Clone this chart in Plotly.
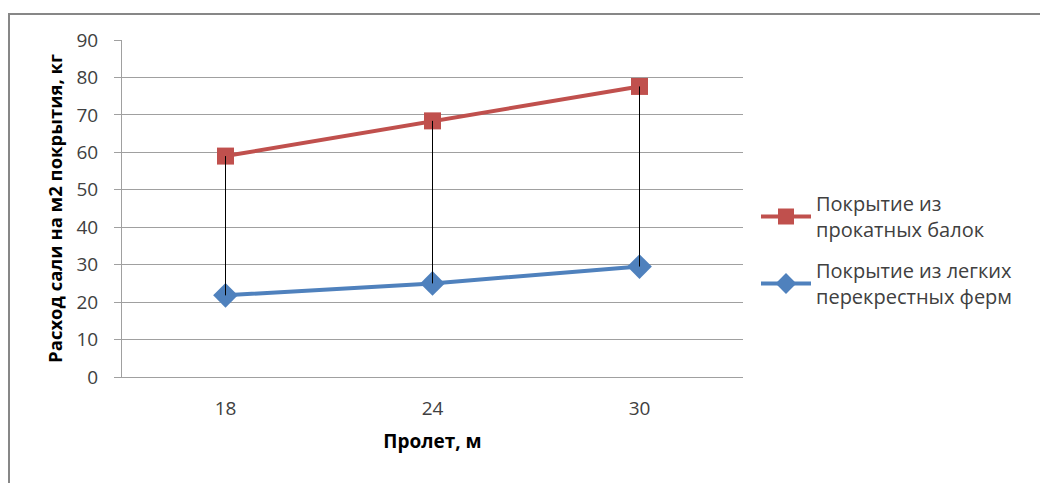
import plotly.graph_objects as go

categories = ["18", "24", "30"]
rolled_beams = [59.0, 68.4, 77.6]
light_trusses = [21.8, 25.0, 29.5]
name_rolled = "Покрытие из<br>прокатных балок"
name_truss = "Покрытие из легких<br>перекрестных ферм"
y_title = "Расход сали на м2 покрытия, кг"
x_title = "Пролет, м"

RED = "#C0504D"
BLUE = "#4F81BD"
FONT = "Open Sans"

fig = go.Figure()
fig.add_trace(go.Scatter(
    x=categories, y=rolled_beams, name=name_rolled, mode="lines+markers",
    legendgroup="a",
    line=dict(color=RED, width=4),
    marker=dict(symbol="square", size=17, color=RED),
))
fig.add_trace(go.Scatter(
    x=categories, y=light_trusses, name=name_truss, mode="lines+markers",
    legendgroup="b",
    line=dict(color=BLUE, width=4),
    marker=dict(symbol="diamond", size=19, color=BLUE),
))

# high-low drop lines
dx, dy = [], []
for c, a, b in zip(categories, rolled_beams, light_trusses):
    dx += [c, c, None]
    dy += [a, b, None]
fig.add_trace(go.Scatter(x=dx, y=dy, mode="lines", line=dict(color="black", width=1),
                         showlegend=False, hoverinfo="skip"))

L, R, T, B = 122, 297, 40, 106
W, H = 1040, 483
pw, ph = W - L - R, H - T - B

def px_x(p):
    return (p - L) / pw

def px_y(p):
    return (H - B - p) / ph

fig.add_shape(type="rect", xref="paper", yref="paper",
              x0=px_x(9), x1=px_x(1200), y0=px_y(14), y1=px_y(700),
              line=dict(color="#878787", width=2), fillcolor="rgba(0,0,0,0)", layer="below")

fig.update_layout(
    width=W, height=H,
    margin=dict(l=L, r=R, t=T, b=B),
    paper_bgcolor="white", plot_bgcolor="white",
    font=dict(family=FONT, size=18, color="#404040"),
    showlegend=True,
    legend=dict(x=px_x(756), y=px_y(184), xanchor="left", yanchor="top",
                font=dict(family=FONT, size=20, color="#404040"),
                itemwidth=50,
                tracegroupgap=12, bgcolor="rgba(0,0,0,0)"),
    xaxis=dict(
        type="category", range=[-0.5, 2.5],
        showline=True, linecolor="#A0A0A0", linewidth=1,
        showgrid=False, ticks="", ticklabelstandoff=14,
        tickfont=dict(family=FONT, size=19, color="#404040"),
        title=dict(text=x_title, standoff=14,
                   font=dict(family=FONT, size=19, color="#000000", weight="bold")),
    ),
    yaxis=dict(
        range=[0, 90], dtick=10, tick0=0,
        showline=True, linecolor="#A0A0A0", linewidth=1,
        showgrid=True, gridcolor="#A0A0A0", gridwidth=1,
        ticks="outside", ticklen=7, tickcolor="#A0A0A0",
        ticklabelstandoff=12,
        tickfont=dict(family=FONT, size=19, color="#404040"),
        zeroline=False,
        title=dict(text=y_title, standoff=8,
                   font=dict(family=FONT, size=18.5, color="#000000", weight="bold")),
    ),
)

fig.write_html("out.html", config={"displayModeBar": False},
               post_script="document.body.style.margin='0';")
